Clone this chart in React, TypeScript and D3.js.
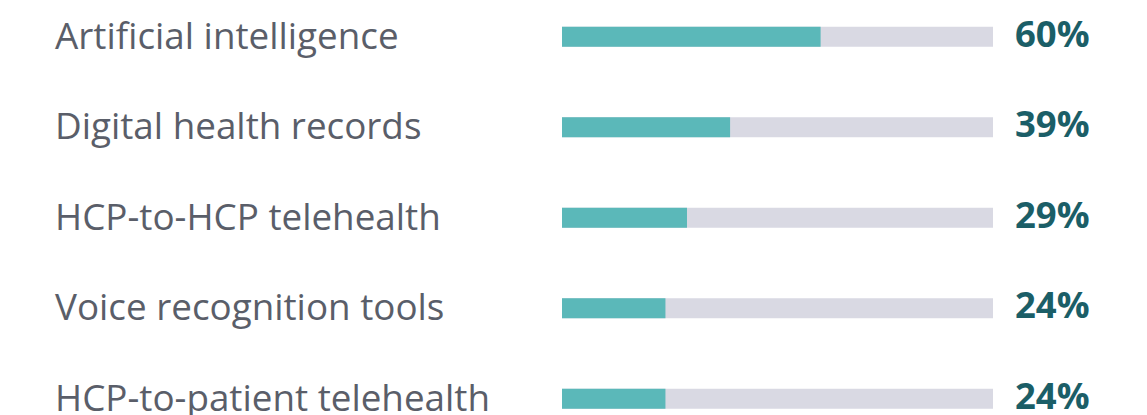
import React from "react";
import * as d3 from "d3";

const categories = [
  "Artificial intelligence",
  "Digital health records",
  "HCP-to-HCP telehealth",
  "Voice recognition tools",
  "HCP-to-patient telehealth",
];
const values = [60, 39, 29, 24, 24];
const domainMax = 100;

const W = 1147;
const H = 415;

export default function App() {
  const x = d3.scaleLinear().domain([0, domainMax]).range([562, 993]);
  const y = d3.scaleBand().domain(categories).range([-8.5, 444]).paddingInner(0).paddingOuter(0);
  const barH = 20;
  return (
    <svg width={W} height={H} style={{ position: "absolute", left: 0, top: 0 }}>
      <rect width={W} height={H} fill="#fff" />
      {categories.map((c, i) => {
        const cy = (y(c) as number) + y.bandwidth() / 2;
        return (
          <g key={c}>
            <text x={55} y={cy + 12} fontFamily="'Open Sans', sans-serif" fontSize={36.8} fill="#5a5e69">
              {c}
            </text>
            <rect x={x(0)} y={cy - barH / 2} width={x(domainMax) - x(0)} height={barH} fill="#d9d9e3" />
            <rect x={x(0)} y={cy - barH / 2} width={x(values[i]) - x(0)} height={barH} fill="#5bb8b9" />
            <text x={1015} y={cy + 10} fontFamily="'Open Sans', sans-serif" fontWeight={700} fontSize={36.5} fill="#1b5e67">
              {values[i]}%
            </text>
          </g>
        );
      })}
    </svg>
  );
}
